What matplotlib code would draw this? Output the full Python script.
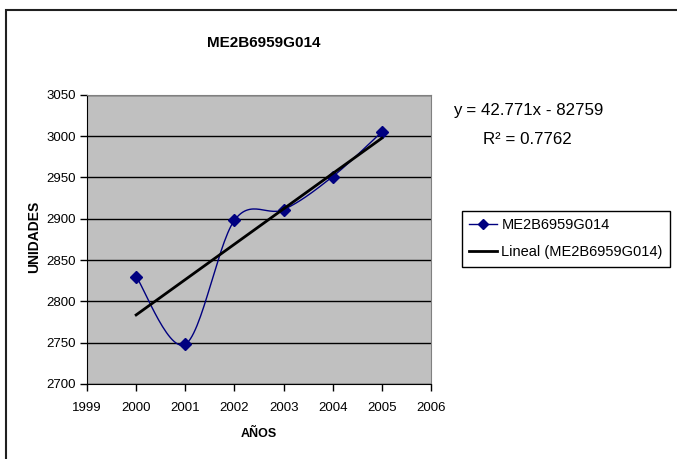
import numpy as np
import matplotlib
matplotlib.use("Agg")
from matplotlib import pyplot as plt
from matplotlib.patches import Rectangle

plt.rcParams['font.family'] = ['Liberation Sans', 'DejaVu Sans']

# Data
years = [2000, 2001, 2002, 2003, 2004, 2005]
unidades = [2830, 2748, 2898, 2911, 2951, 3005]
series_name = "ME2B6959G014"
trend_label = "Lineal (ME2B6959G014)"
eq_text = "y = 42.771x - 82759"
r2_text = "R² = 0.7762"
x_ticks = list(range(1999, 2007))
y_ticks = list(range(2700, 3051, 50))

W, H = 677, 459
fig = plt.figure(figsize=(W / 100, H / 100), dpi=100)

# outer chart frame (right and bottom fall outside the image)
fig.patches.append(Rectangle((6 / W, -0.05), 1.1, 1 - 10 / H + 0.05,
                             transform=fig.transFigure, fill=False,
                             edgecolor='#202020', lw=1.5))

ax = fig.add_axes([87 / W, 1 - 384 / H, (431 - 87) / W, (384 - 94.7) / H])
ax.set_facecolor('#C0C0C0')


# Excel style smoothed line (Bezier through the points)
def smooth(xs, ys, n=30):
    p = np.column_stack([xs, ys]).astype(float)
    out = []
    for i in range(len(p) - 1):
        p0 = p[i - 1] if i > 0 else p[i]
        p3 = p[i + 2] if i + 2 < len(p) else p[i + 1]
        c1 = p[i] + (p[i + 1] - p0) / 6
        c2 = p[i + 1] - (p3 - p[i]) / 6
        t = np.linspace(0, 1, n)[:, None]
        seg = ((1 - t) ** 3 * p[i] + 3 * (1 - t) ** 2 * t * c1
               + 3 * (1 - t) * t ** 2 * c2 + t ** 3 * p[i + 1])
        out.append(seg if i == 0 else seg[1:])
    out = np.vstack(out)
    return out[:, 0], out[:, 1]


sx, sy = smooth(years, unidades)
ax.plot(sx, sy, color='#000080', lw=1, zorder=3)
ax.plot(years, unidades, ls='none', marker='D', ms=6, color='#000080', zorder=4)

# linear trend
z = np.polyfit(years, unidades, 1)
p = np.poly1d(z)
ax.plot([years[0], years[-1]], p([years[0], years[-1]]), color='black', lw=2, zorder=5)

# legend handles
h1, = ax.plot([], [], color='#000080', lw=1, marker='D', ms=5)
h2, = ax.plot([], [], color='black', lw=2)

ax.set_xlim(1999, 2006)
ax.set_ylim(2700, 3050)
ax.set_xticks(x_ticks)
ax.set_yticks(y_ticks)
ax.yaxis.grid(True, color='black', lw=1)
ax.set_axisbelow(True)
ax.tick_params(direction='out', length=5, width=1, labelsize=9.5)
ax.tick_params(axis='y', pad=3)
ax.tick_params(axis='x', pad=8)
for s in ['top', 'right']:
    ax.spines[s].set_color('#808080')
for s in ['left', 'bottom']:
    ax.spines[s].set_color('black')

fig.text(264 / W, 1 - 43 / H, series_name, ha='center', va='center',
         fontsize=11, fontweight='bold')
fig.text(259 / W, 1 - 434 / H, "AÑOS", ha='center', va='center',
         fontsize=9, fontweight='bold')
fig.text(34 / W, 1 - 237 / H, "UNIDADES", ha='center', va='center',
         rotation=90, fontsize=10, fontweight='bold')

fig.text(453 / W, 1 - 115 / H, eq_text, ha='left', va='baseline', fontsize=12.2)
fig.text(483 / W, 1 - 144 / H, r2_text, ha='left', va='baseline', fontsize=12.2)

leg = fig.legend([h1, h2], [series_name, trend_label], loc='upper left',
                 bbox_to_anchor=(462 / W, 1 - 211 / H), borderaxespad=0,
                 fontsize=10.5, handlelength=1.9, handletextpad=0.3,
                 labelspacing=0.9, borderpad=0.5, fancybox=False,
                 framealpha=1, edgecolor='black')
leg.get_frame().set_linewidth(1)

fig.savefig("out.png", dpi=100)
